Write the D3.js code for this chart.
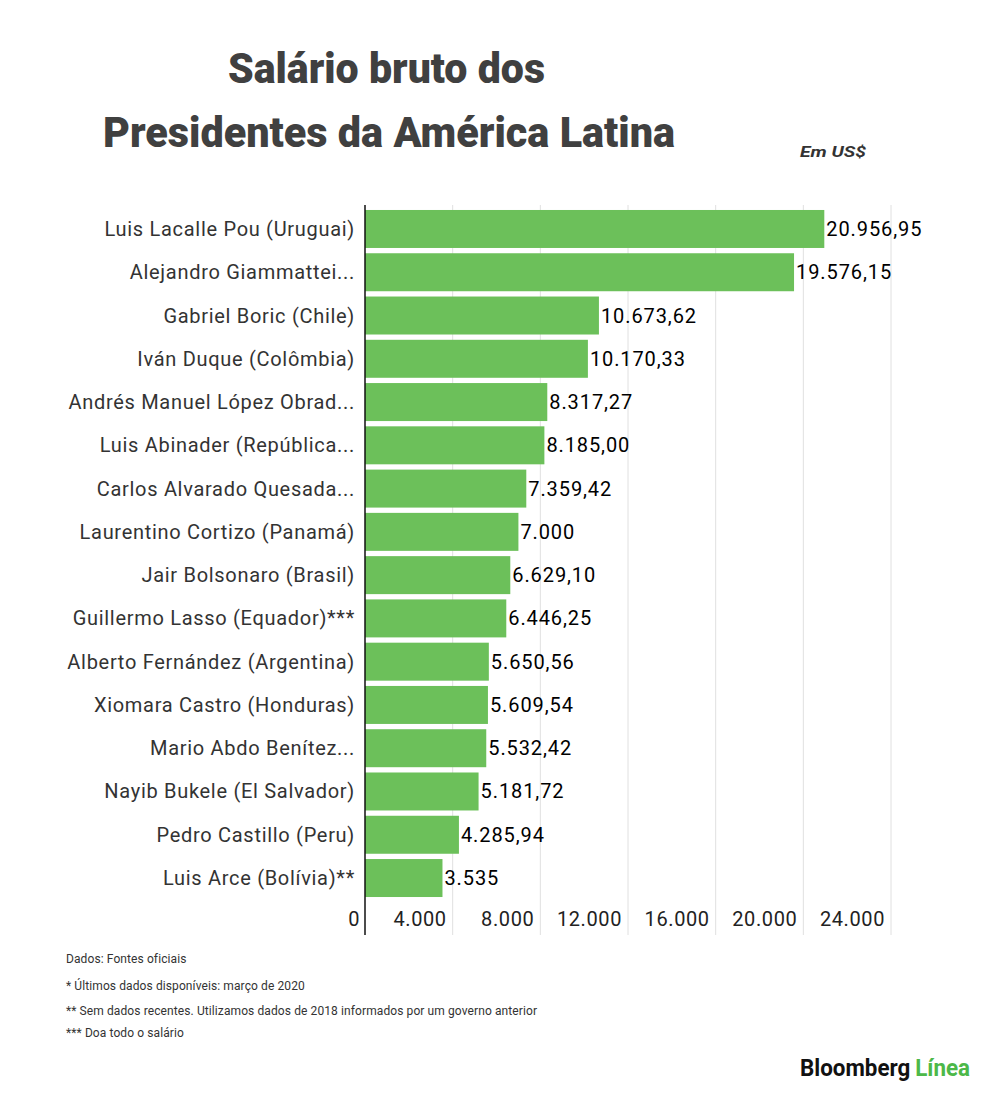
<!DOCTYPE html>
<html>
<head>
<meta charset="utf-8">
<script src="https://cdn.jsdelivr.net/npm/d3@7"></script>
<style>
  body { margin: 0; background: #fff; }
  svg { display: block; font-family: Roboto, "Noto Sans", sans-serif; }
</style>
</head>
<body>
<svg id="chart" width="1000" height="1095"></svg>
<script>
const names = [
  "Luis Lacalle Pou (Uruguai)",
  "Alejandro Giammattei...",
  "Gabriel Boric (Chile)",
  "Iván Duque (Colômbia)",
  "Andrés Manuel López Obrad...",
  "Luis Abinader (República...",
  "Carlos Alvarado Quesada...",
  "Laurentino Cortizo (Panamá)",
  "Jair Bolsonaro (Brasil)",
  "Guillermo Lasso (Equador)***",
  "Alberto Fernández (Argentina)",
  "Xiomara Castro (Honduras)",
  "Mario Abdo Benítez...",
  "Nayib Bukele (El Salvador)",
  "Pedro Castillo (Peru)",
  "Luis Arce (Bolívia)**"
];
const salaries = [20956.95, 19576.15, 10673.62, 10170.33, 8317.27, 8185.00, 7359.42, 7000,
  6629.10, 6446.25, 5650.56, 5609.54, 5532.42, 5181.72, 4285.94, 3535];
const salaryLabels = ["20.956,95", "19.576,15", "10.673,62", "10.170,33", "8.317,27", "8.185,00",
  "7.359,42", "7.000", "6.629,10", "6.446,25", "5.650,56", "5.609,54", "5.532,42", "5.181,72",
  "4.285,94", "3.535"];
const ticks = [0, 4000, 8000, 12000, 16000, 20000, 24000];
const notes = [
  "Dados: Fontes oficiais",
  "* Últimos dados disponíveis: março de 2020",
  "** Sem dados recentes. Utilizamos dados de 2018 informados por um governo anterior",
  "*** Doa todo o salário"
];

const svg = d3.select("#chart");
const green = "#6cc05a";

const x = d3.scaleLinear().domain([0, 24000]).range([365, 891]);
const y = d3.scaleBand().domain(d3.range(names.length)).range([204.7, 902.3]).padding(0.122);
const fmt = (v) => d3.format(",")(v).replace(/,/g, ".");

// title
const title = svg.append("g").attr("fill", "#404040").attr("font-weight", 900).attr("font-size", 42);
title.append("text").attr("x", 228).attr("y", 83)
  .attr("textLength", 317).attr("lengthAdjust", "spacingAndGlyphs")
  .text("Salário bruto dos");
title.append("text").attr("x", 103).attr("y", 147)
  .attr("textLength", 572).attr("lengthAdjust", "spacingAndGlyphs")
  .text("Presidentes da América Latina");

svg.append("text").attr("x", 800).attr("y", 157)
  .attr("font-size", 15).attr("font-weight", 700).attr("font-style", "italic").attr("fill", "#333")
  .attr("textLength", 66).attr("lengthAdjust", "spacingAndGlyphs")
  .text("Em US$");

// gridlines
svg.append("g").selectAll("line").data(ticks.slice(1)).join("line")
  .attr("x1", (d) => x(d)).attr("x2", (d) => x(d))
  .attr("y1", 205).attr("y2", 935)
  .attr("stroke", "#e0e0e0").attr("stroke-width", 1);

// bars
svg.append("g").selectAll("rect").data(salaries).join("rect")
  .attr("x", x(0))
  .attr("y", (d, i) => y(i))
  .attr("width", (d) => x(d) - x(0))
  .attr("height", y.bandwidth())
  .attr("fill", green);

// value labels
svg.append("g").selectAll("text").data(salaries).join("text")
  .attr("x", (d) => x(d) + 2)
  .attr("y", (d, i) => y(i) + y.bandwidth() / 2)
  .attr("dy", "0.35em")
  .attr("font-size", 20).attr("letter-spacing", 0.9).attr("fill", "#000")
  .text((d, i) => salaryLabels[i]);

// category labels
svg.append("g").selectAll("text").data(names).join("text")
  .attr("x", 355)
  .attr("y", (d, i) => y(i) + y.bandwidth() / 2)
  .attr("dy", "0.35em")
  .attr("text-anchor", "end")
  .attr("font-size", 20).attr("letter-spacing", 0.7).attr("fill", "#333")
  .text((d) => d);

// axis line
svg.append("line").attr("x1", x(0)).attr("x2", x(0)).attr("y1", 205).attr("y2", 935)
  .attr("stroke", "#111").attr("stroke-width", 1.5);

// tick labels
svg.append("g").selectAll("text").data(ticks).join("text")
  .attr("x", (d) => x(d) - (d === 0 ? 5 : 6))
  .attr("y", 926)
  .attr("text-anchor", "end")
  .attr("font-size", 20).attr("letter-spacing", 0.6).attr("fill", "#222")
  .text((d) => fmt(d));

// footnotes
svg.append("g").selectAll("text").data(notes).join("text")
  .attr("x", 66)
  .attr("y", (d, i) => [963, 990, 1015, 1037][i])
  .attr("font-size", 12).attr("letter-spacing", 0.1).attr("fill", "#333")
  .text((d) => d);

// logo
const logo = svg.append("text").attr("x", 800).attr("y", 1076)
  .attr("font-size", 23).attr("font-weight", 700)
  .attr("textLength", 170).attr("lengthAdjust", "spacingAndGlyphs");
logo.append("tspan").attr("fill", "#111").text("Bloomberg");
logo.append("tspan").attr("fill", "#4cb848").attr("dx", 5).text("Línea");
</script>
</body>
</html>
